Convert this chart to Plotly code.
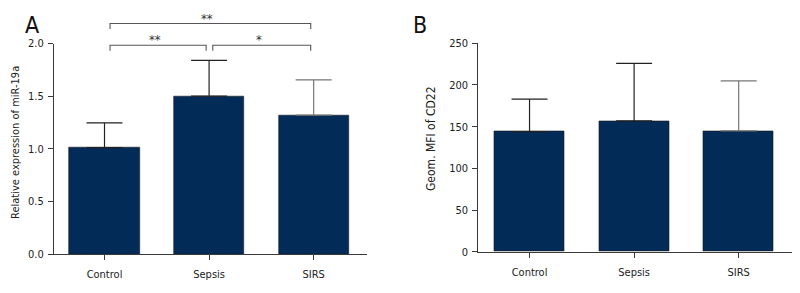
import plotly.graph_objects as go

# ---- data ----
categories = ["Control", "Sepsis", "SIRS"]
mir19a_mean = [1.01, 1.50, 1.32]
mir19a_err = [0.235, 0.34, 0.335]
cd22_mean = [144, 157, 145]
cd22_err = [39, 69, 60]
a_ticks = [0.0, 0.5, 1.0, 1.5, 2.0]
b_ticks = [0, 50, 100, 150, 200, 250]
# significance brackets: (from idx, to idx, label, bracket height)
sig_pairs = [(0, 2, "**", 2.19), (0, 1, "**", 1.984), (1, 2, "*", 1.984)]

# ---- style ----
FONT = "DejaVu Sans Condensed, Roboto, sans-serif"
BAR = "#032b57"
AX = "#3a3a3a"
err_colors = ["#222222", "#222222", "#777777"]
W, H = 792, 285          # page body adds an 8px offset
PH = 246                 # plot area height (t=0, b=39)

fig = go.Figure()
xs = list(range(len(categories)))

for i in xs:
    fig.add_trace(go.Bar(x=[i], y=[mir19a_mean[i]], width=0.67,
                         marker=dict(color=BAR, line=dict(color="#1a1a1a", width=0.6)),
                         error_y=dict(type="data", symmetric=False, array=[mir19a_err[i]],
                                      arrayminus=[0], color=err_colors[i], thickness=1.2, width=18),
                         xaxis="x", yaxis="y", showlegend=False, hoverinfo="y"))
    fig.add_trace(go.Bar(x=[i], y=[cd22_mean[i]], width=0.67,
                         marker=dict(color=BAR, line=dict(color="#1a1a1a", width=0.6)),
                         error_y=dict(type="data", symmetric=False, array=[cd22_err[i]],
                                      arrayminus=[0], color=err_colors[i], thickness=1.2, width=18),
                         xaxis="x2", yaxis="y2", showlegend=False, hoverinfo="y"))

# brackets on an invisible y axis with the same scale but extended range
tick_drop = 0.052
for a, b, lab, h in sig_pairs:
    x0 = a + (0.035 if lab == "*" else 0.053)
    x1 = b - 0.028
    fig.add_trace(go.Scatter(x=[x0, x0, x1, x1], y=[h - tick_drop, h, h, h - tick_drop],
                             mode="lines", line=dict(color="#555555", width=1.1),
                             xaxis="x", yaxis="y3", showlegend=False, hoverinfo="skip"))
    fig.add_annotation(x=(a + b) / 2 - 0.02, y=h + 0.05, xref="x", yref="y3", text=lab,
                       showarrow=False, yanchor="middle",
                       font=dict(family=FONT, size=13, color="#333333"))

axis_common = dict(showgrid=False, zeroline=False, showline=True, linecolor=AX, linewidth=1,
                   ticks="outside", ticklen=5, tickcolor=AX, tickwidth=1, automargin=False,
                   tickfont=dict(family=FONT, size=11, color="#222222"))

fig.update_layout(
    width=W, height=H,
    margin=dict(l=0, r=0, t=0, b=H - PH, autoexpand=False),
    plot_bgcolor="rgba(0,0,0,0)", paper_bgcolor="white",
    bargap=0,
    xaxis=dict(domain=[46 / W, 359 / W], range=[-0.483, 2.51], anchor="y",
               tickvals=xs, ticktext=categories, ticklabelstandoff=5, **axis_common),
    yaxis=dict(domain=[0, 1 - 35.5 / PH], range=[0, 2.0], anchor="x", ticklabelstandoff=2,
               tickvals=a_ticks, ticktext=[f"{v:.1f}" for v in a_ticks], **axis_common),
    yaxis3=dict(domain=[0, 1], range=[0, PH / 105.25], anchor="x", visible=False),
    xaxis2=dict(domain=[470.3 / W, 783.7 / W], range=[-0.49, 2.507], anchor="y2",
                tickvals=xs, ticktext=categories, ticklabelstandoff=5, **axis_common),
    yaxis2=dict(domain=[2.3 / PH, 1 - 35.3 / PH], range=[0, 250], anchor="x2", ticklabelstandoff=2,
                tickvals=b_ticks, ticktext=[str(v) for v in b_ticks], **axis_common),
)

# axis titles and panel letters
fig.add_annotation(x=-1 / W, y=1 - 134.5 / PH, xref="paper", yref="paper",
                   text="Relative expression of miR-19a", textangle=-90, showarrow=False,
                   font=dict(family=FONT, size=11, color="#222222"))
fig.add_annotation(x=423 / W, y=1 - 131 / PH, xref="paper", yref="paper",
                   text="Geom. MFI of CD22", textangle=-90, showarrow=False,
                   font=dict(family=FONT, size=12, color="#222222"))
fig.add_annotation(x=15 / W, y=1 - 2 / PH, xref="paper", yref="paper", text="A",
                   showarrow=False, font=dict(family=FONT, size=23, color="#111111"))
fig.add_annotation(x=412 / W, y=1 - 2 / PH, xref="paper", yref="paper", text="B",
                   showarrow=False, font=dict(family=FONT, size=23, color="#111111"))

fig.write_html("out.html")
